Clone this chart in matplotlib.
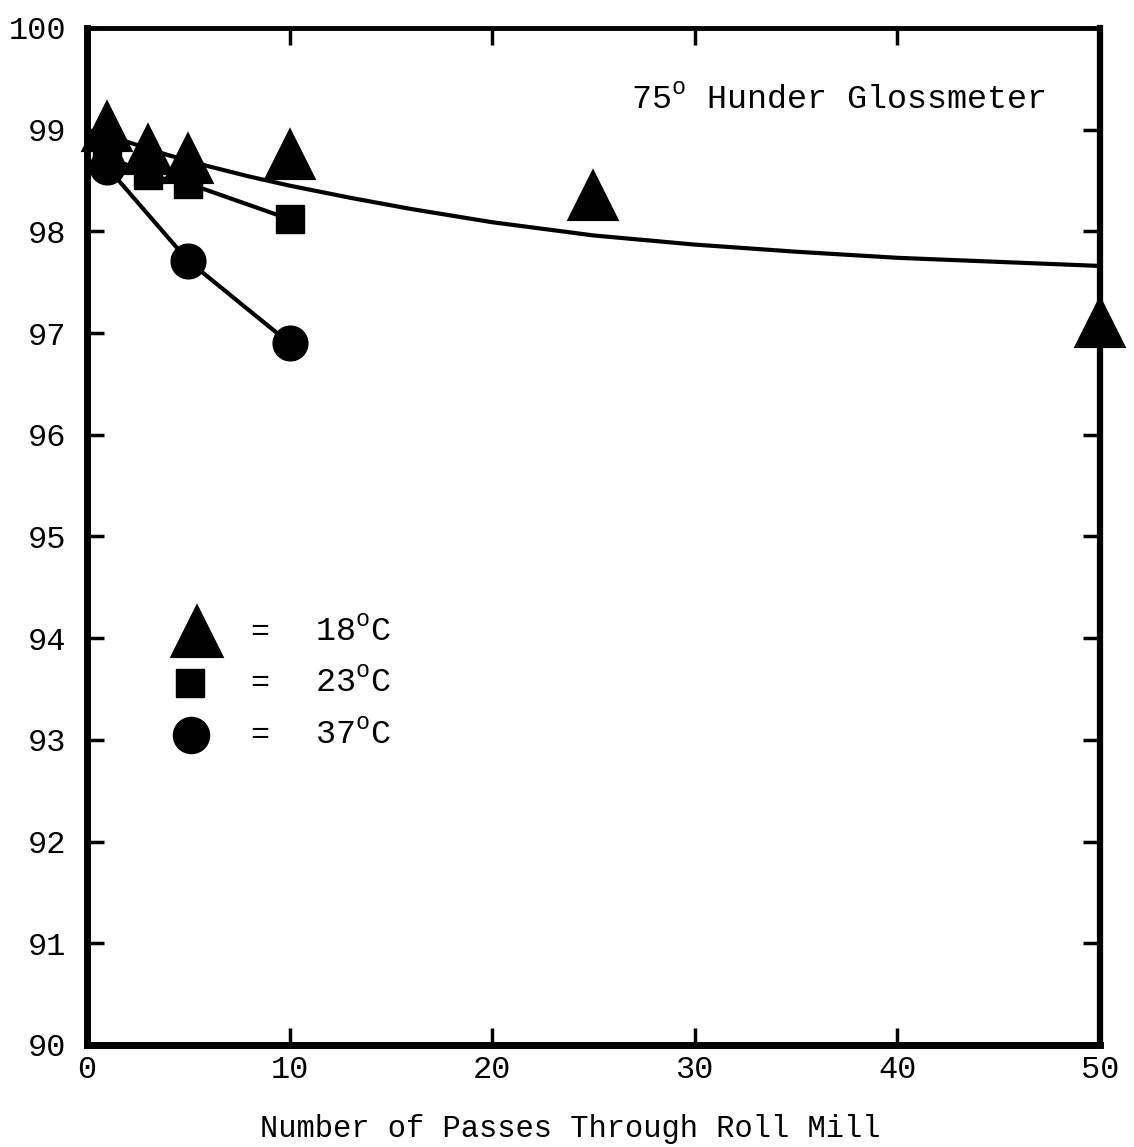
import matplotlib
matplotlib.use("Agg")
from matplotlib import pyplot as plt

plt.rcParams['font.family'] = ['Liberation Mono', 'DejaVu Sans Mono']
plt.rcParams['mathtext.fontset'] = 'custom'
plt.rcParams['mathtext.rm'] = 'Liberation Mono'

# Глянец при разных температурах
passes_18 = [1, 3, 5, 10, 25, 50]
gloss_18 = [99.03, 98.8, 98.71, 98.75, 98.35, 97.1]

passes_23 = [1, 3, 5, 10]
gloss_23 = [98.75, 98.55, 98.47, 98.12]

passes_37 = [1, 5, 10]
gloss_37 = [98.63, 97.71, 96.9]

# Сглаженная кривая для 18 °C
curve_x = [1, 2, 4, 6, 8, 10, 13, 16, 20, 25, 30, 35, 40, 45, 50]
curve_y = [98.95, 98.88, 98.75, 98.64, 98.54, 98.45, 98.33, 98.22, 98.09,
           97.96, 97.87, 97.8, 97.74, 97.7, 97.66]

x_ticks = [0, 10, 20, 30, 40, 50]
y_ticks = [90, 91, 92, 93, 94, 95, 96, 97, 98, 99, 100]

fig = plt.figure(figsize=(11.34, 11.47), dpi=100)
ax = fig.add_axes([0.0767, 0.089, 0.8933, 0.8866])

ax.plot(curve_x, curve_y, color='black', lw=3, zorder=2)
ax.plot(passes_23, gloss_23, color='black', lw=3, zorder=2)
ax.plot(passes_37, gloss_37, color='black', lw=3, zorder=2)

ax.plot(passes_18, gloss_18, ls='none', marker='^', ms=33, color='black',
        mew=3, mec='black', mfc='black', zorder=4, clip_on=False)
ax.plot(passes_23, gloss_23, ls='none', marker='s', ms=20, color='black',
        zorder=3, clip_on=False)
ax.plot(passes_37, gloss_37, ls='none', marker='o', ms=25, color='black',
        zorder=3, clip_on=False)

ax.set_xlim(0, 50)
ax.set_ylim(90, 100)
ax.set_xticks(x_ticks)
ax.set_yticks(y_ticks)
ax.tick_params(direction='in', length=12, width=2.5, labelsize=23,
               top=True, right=True)
ax.tick_params(axis='y', pad=15)
ax.tick_params(axis='x', pad=7)
for name, w in [('left', 5), ('bottom', 5), ('top', 3.5), ('right', 4.5)]:
    ax.spines[name].set_linewidth(w)

# Условные обозначения
ax.plot([0.109], [0.406], marker='^', ms=34, color='black', mew=3,
        transform=ax.transAxes, clip_on=False)
ax.plot([0.102], [0.356], marker='s', ms=20, color='black',
        transform=ax.transAxes, clip_on=False)
ax.plot([0.103], [0.305], marker='o', ms=26, color='black',
        transform=ax.transAxes, clip_on=False)
for y, label in [(0.406, '18$^{\\mathrm{o}}$C'), (0.356, '23$^{\\mathrm{o}}$C'),
                 (0.305, '37$^{\\mathrm{o}}$C')]:
    ax.text(0.171, y, '=', fontsize=23, ha='center', va='center',
            transform=ax.transAxes)
    ax.text(0.225, y, label, fontsize=24, ha='left', va='center',
            transform=ax.transAxes)

ax.text(0.742, 0.929, '75$^{\\mathrm{o}}$ Hunder Glossmeter', fontsize=24,
        ha='center', va='center', transform=ax.transAxes)

fig.text(0.5025, 0.016, 'Number of Passes Through Roll Mill', fontsize=22,
         ha='center', va='center')

fig.savefig('out.png', dpi=100, facecolor='white')
